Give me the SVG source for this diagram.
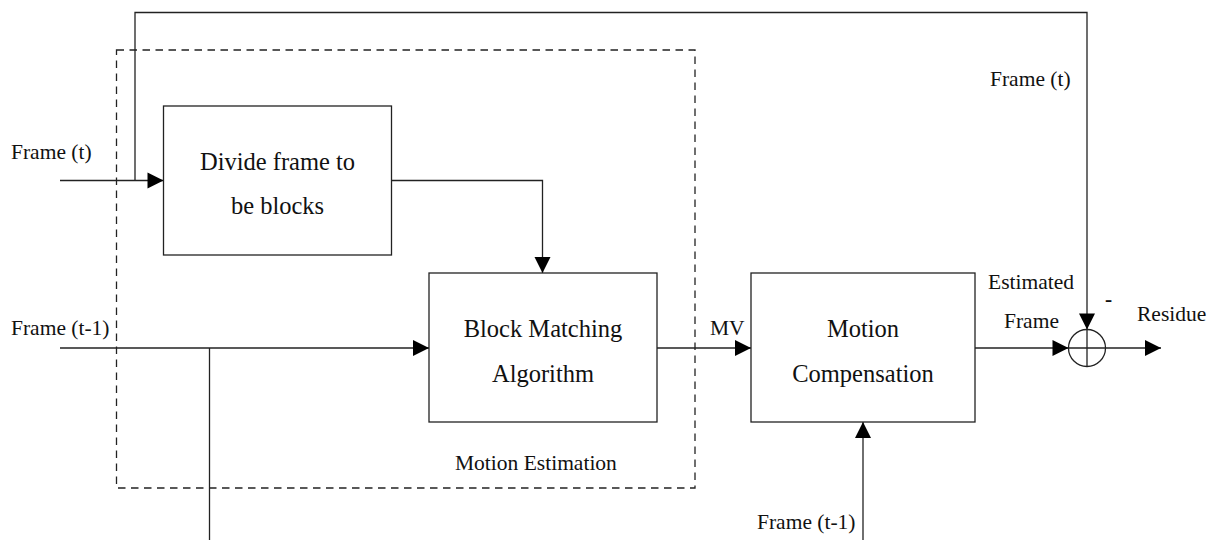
<svg xmlns="http://www.w3.org/2000/svg" width="1208" height="540" viewBox="0 0 1208 540">
  <style>
    .box { fill: #fff; stroke: #222; stroke-width: 1.3; }
    .wire { fill: none; stroke: #222; stroke-width: 1.3; }
    .group { fill: none; stroke: #222; stroke-width: 1.3; stroke-dasharray: 7.5 5.5; }
    text { font-family: 'Liberation Serif', 'Times New Roman', Times, 'DejaVu Serif', serif; fill: #111; }
    .big { font-size: 24.5px; text-anchor: middle; }
    .lbl { font-size: 21.5px; }
  </style>
  <defs>
    <marker id="arrow" markerUnits="userSpaceOnUse" markerWidth="18" markerHeight="18" viewBox="0 0 18 18" refX="17" refY="9" orient="auto">
      <path d="M1,1 L17,9 L1,17 Z" fill="#000"/>
    </marker>
  </defs>

  <rect x="0" y="0" width="1208" height="540" fill="#fff"/>

  <!-- motion estimation group outline -->
  <rect id="motion-estimation" class="group" x="116.5" y="50" width="578.5" height="438"/>
  <text class="lbl" x="455" y="470" font-family="Liberation Serif, serif">Motion Estimation</text>

  <!-- connectors -->
  <g id="connectors">
    <path class="wire" d="M135,180.5 V12.5 H1087 V329.5" marker-end="url(#arrow)"/>
    <path class="wire" d="M60,180.5 H163.5" marker-end="url(#arrow)"/>
    <path class="wire" d="M391.5,180.5 H542.5 V273" marker-end="url(#arrow)"/>
    <path class="wire" d="M60,348 H429" marker-end="url(#arrow)"/>
    <path class="wire" d="M209.5,348 V540"/>
    <path class="wire" d="M657,348 H751" marker-end="url(#arrow)"/>
    <path class="wire" d="M975,348 H1068.5" marker-end="url(#arrow)"/>
    <path class="wire" d="M1105.5,348 H1161" marker-end="url(#arrow)"/>
    <path class="wire" d="M863,540 V422" marker-end="url(#arrow)"/>
  </g>

  <!-- nodes -->
  <g id="divide-frame">
    <rect class="box" x="163.5" y="106" width="228" height="149"/>
    <text class="big" x="277.5" y="170">Divide frame to</text>
    <text class="big" x="277.5" y="214">be blocks</text>
  </g>

  <g id="block-matching">
    <rect class="box" x="429" y="273" width="228" height="149"/>
    <text class="big" x="543" y="337">Block Matching</text>
    <text class="big" x="543" y="382">Algorithm</text>
  </g>

  <g id="motion-compensation">
    <rect class="box" x="751" y="273" width="224" height="149"/>
    <text class="big" x="863" y="337">Motion</text>
    <text class="big" x="863" y="382">Compensation</text>
  </g>

  <g id="summer">
    <circle class="box" cx="1087" cy="348" r="18.5"/>
    <path class="wire" d="M1068.5,348 H1105.5 M1087,329.5 V366.5"/>
    <text x="1105" y="306" font-size="21.5" font-weight="bold">-</text>
  </g>

  <!-- signal labels -->
  <g id="labels">
    <text class="lbl" x="11" y="159">Frame (t)</text>
    <text class="lbl" x="11" y="335">Frame (t-1)</text>
    <text class="lbl" x="990" y="86">Frame (t)</text>
    <text class="lbl" x="710" y="335">MV</text>
    <text class="lbl" x="988" y="289">Estimated</text>
    <text class="lbl" x="1004" y="328">Frame</text>
    <text class="lbl" x="1137" y="321">Residue</text>
    <text class="lbl" x="757" y="529">Frame (t-1)</text>
  </g>
</svg>
